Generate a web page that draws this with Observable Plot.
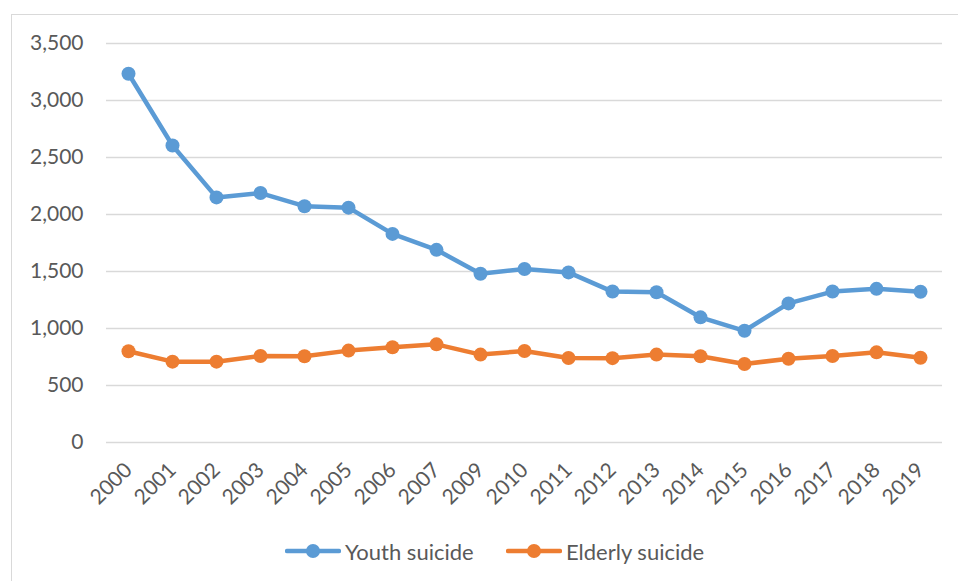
<!DOCTYPE html>
<html>
<head>
<meta charset="utf-8">
<script src="https://cdn.jsdelivr.net/npm/d3@7"></script>
<script src="https://cdn.jsdelivr.net/npm/@observablehq/plot@0.6"></script>
<style>
  html, body { margin: 0; padding: 0; background: #fff; overflow: hidden; width: 958px; height: 581px; }
  #frame { position: absolute; left: 11px; top: 14px; width: 1000px; height: 700px; border: 1.5px solid #D9D9D9; box-sizing: border-box; }
  #chart { position: absolute; left: 0; top: 0; }
  #legend { position: absolute; left: 0; top: 520px; width: 958px; height: 61px; font-family: Lato, sans-serif; font-size: 22px; color: #595959; }
  .item { position: absolute; top: 16px; display: flex; align-items: center; height: 30px; }
  .item svg { margin-right: 4px; }
</style>
</head>
<body>
<div id="frame"></div>
<div id="chart"></div>
<div id="legend"></div>
<script>
const years = ["2000","2001","2002","2003","2004","2005","2006","2007","2009","2010","2011","2012","2013","2014","2015","2016","2017","2018","2019"];
const youth = [3235, 2605, 2150, 2188, 2073, 2060, 1830, 1690, 1480, 1522, 1492, 1324, 1318, 1098, 980, 1220, 1324, 1348, 1322];
const elderly = [800, 709, 709, 759, 756, 806, 835, 861, 771, 803, 741, 740, 771, 756, 689, 735, 759, 791, 744];
const yTicks = [0, 500, 1000, 1500, 2000, 2500, 3000, 3500];
const seriesNames = ["Youth suicide", "Elderly suicide"];
const colors = ["#5B9BD5", "#ED7D31"];

const data = [];
years.forEach((yr, i) => {
  data.push({year: yr, value: youth[i], series: seriesNames[0]});
  data.push({year: yr, value: elderly[i], series: seriesNames[1]});
});

const fmt = d3.format(",");

const plot = Plot.plot({
  width: 958,
  height: 520,
  marginLeft: 106,
  marginRight: 16,
  marginTop: 43,
  marginBottom: 78,
  style: {fontFamily: "Lato, sans-serif", fontSize: "21px", color: "#595959", background: "transparent"},
  x: {type: "point", domain: years, padding: 0.5, label: null},
  y: {domain: [0, 3500], ticks: yTicks, label: null},
  color: {domain: seriesNames, range: colors},
  marks: [
    Plot.gridY(yTicks, {stroke: "#D9D9D9", strokeOpacity: 1, strokeWidth: 1.3}),
    Plot.axisY(yTicks, {tickSize: 0, tickPadding: 23, tickFormat: fmt, label: null}),
    Plot.axisX({tickSize: 0, tickRotate: -45, tickPadding: 24, label: null}),
    Plot.line(data, {x: "year", y: "value", z: "series", stroke: "series", strokeWidth: 4.5, strokeLinejoin: "round", strokeLinecap: "round"}),
    Plot.dot(data, {x: "year", y: "value", fill: "series", r: 7, stroke: null})
  ]
});
document.getElementById("chart").appendChild(plot);

const legend = document.getElementById("legend");
const lefts = [285, 506];
seriesNames.forEach((name, i) => {
  const div = document.createElement("div");
  div.className = "item";
  div.style.left = lefts[i] + "px";
  div.innerHTML = `<svg width="56" height="16"><line x1="2" y1="8" x2="54" y2="8" stroke="${colors[i]}" stroke-width="4.5" stroke-linecap="round"/><circle cx="28" cy="8" r="7" fill="${colors[i]}"/></svg><span>${name}</span>`;
  legend.appendChild(div);
});
</script>
</body>
</html>
